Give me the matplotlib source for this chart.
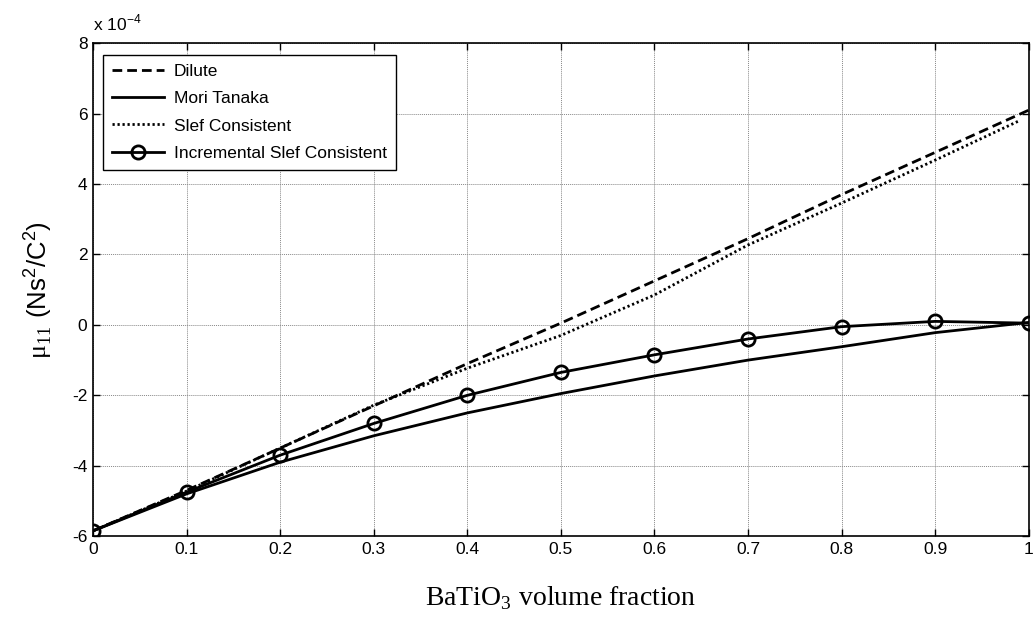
import numpy as np
import matplotlib.pyplot as plt

plt.rcParams['font.family'] = ['Liberation Sans', 'DejaVu Sans']
plt.rcParams['mathtext.fontset'] = 'custom'
plt.rcParams['mathtext.rm'] = 'Liberation Serif'
plt.rcParams['mathtext.sf'] = 'Liberation Sans'
plt.rcParams['axes.unicode_minus'] = False

# volume fraction
vf = [0.0, 0.1, 0.2, 0.3, 0.4, 0.5, 0.6, 0.7, 0.8, 0.9, 1.0]

# mu_11 values in units of 1e-4
dilute = [-5.85, -4.7, -3.5, -2.3, -1.1, 0.05, 1.25, 2.45, 3.7, 4.9, 6.1]
mori_tanaka = [-5.85, -4.8, -3.9, -3.15, -2.5, -1.95, -1.45, -1.0, -0.62, -0.22, 0.07]
vf_sc = [0.0, 0.1, 0.2, 0.3, 0.4, 0.5, 0.6, 0.7, 0.8, 0.9, 0.99]
self_consistent = [-5.85, -4.72, -3.5, -2.28, -1.23, -0.3, 0.85, 2.27, 3.46, 4.68, 5.8]
incremental_sc = [-5.85, -4.75, -3.7, -2.8, -2.0, -1.35, -0.85, -0.4, -0.05, 0.1, 0.05]

fig = plt.figure(figsize=(10.34, 6.36), dpi=100)
ax = fig.add_axes([0.0899, 0.157, 0.905, 0.775])

ax.plot(vf, dilute, color='black', linestyle=(0, (3.5, 1.8)), linewidth=2.0, label='Dilute')
ax.plot(vf, mori_tanaka, color='black', linestyle='-', linewidth=2.0, label='Mori Tanaka')
ax.plot(vf_sc, self_consistent, color='black', linestyle=(0, (0.8, 1.0)), linewidth=2.0,
        label='Slef Consistent')
ax.plot(vf, incremental_sc, color='black', linestyle='-', linewidth=2.0, marker='o',
        markersize=9.5, markerfacecolor='none', markeredgewidth=2.0,
        label='Incremental Slef Consistent')

ax.set_xlim(0, 1)
ax.set_ylim(-6, 8)
ax.set_xticks([0, 0.1, 0.2, 0.3, 0.4, 0.5, 0.6, 0.7, 0.8, 0.9, 1])
ax.set_xticklabels(['0', '0.1', '0.2', '0.3', '0.4', '0.5', '0.6', '0.7', '0.8', '0.9', '1'])
ax.set_yticks([-6, -4, -2, 0, 2, 4, 6, 8])
ax.tick_params(direction='in', top=True, right=True, labelsize=12.5, length=5, width=1, pad=4)
ax.grid(True, color='#888888', linestyle=(0, (1, 1)), linewidth=0.7)
for s in ax.spines.values():
    s.set_linewidth(1.2)

ax.text(0.0, 1.02, r'x 10$^{\mathsf{-4}}$', transform=ax.transAxes, fontsize=12.5,
        ha='left', va='bottom')

ax.set_ylabel(r'$\mathrm{\mu}_{\mathrm{11}}\ \mathsf{(Ns^{2}/C^{2})}$', fontsize=18.5, labelpad=12)
ax.set_xlabel(r'BaTiO$_{3}$ volume fraction', fontsize=20, family='Liberation Serif',
              labelpad=20)

leg = ax.legend(loc='upper left', bbox_to_anchor=(0.0106, 0.976), borderaxespad=0,
                fontsize=12.5, fancybox=False, edgecolor='black', framealpha=1,
                handlelength=3.0, labelspacing=0.7, borderpad=0.5, handletextpad=0.6)
leg.get_frame().set_linewidth(1.0)

fig.savefig('out.png', dpi=100)
